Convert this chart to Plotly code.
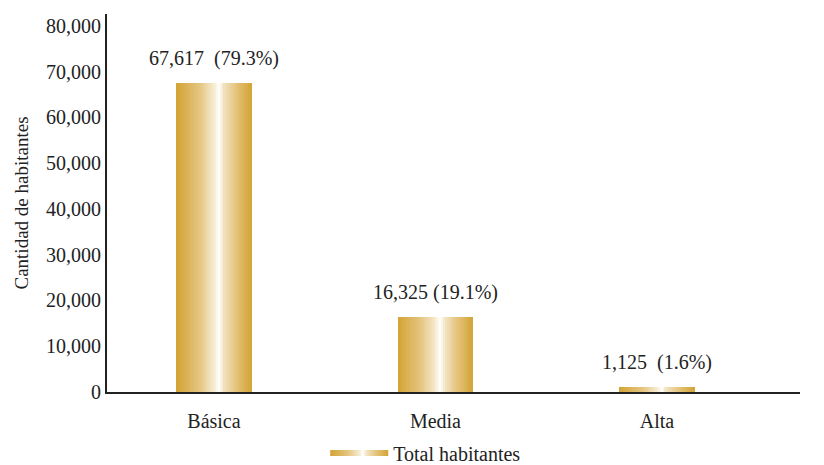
import plotly.graph_objects as go

categorias = ["Básica", "Media", "Alta"]
habitantes = [67617, 16325, 1125]
etiquetas = ["67,617\u00a0 (79.3%)", "16,325 (19.1%)", "1,125\u00a0 (1.6%)"]
serie = "Total habitantes"

# gradiente horizontal dorado -> blanco -> dorado (estilo)
stops = [(0.0, (211, 163, 52)), (0.3, (228, 196, 125)), (0.5, (246, 234, 208)),
         (0.56, (255, 255, 252)), (0.63, (242, 226, 192)), (0.82, (226, 191, 112)),
         (1.0, (211, 163, 52))]
escala = [[t, "rgb(%d,%d,%d)" % c] for t, c in stops]

def color_en(t):
    for (t0, c0), (t1, c1) in zip(stops, stops[1:]):
        if t0 <= t <= t1:
            f = (t - t0) / (t1 - t0)
            return "rgb(%d,%d,%d)" % tuple(round(a + (b - a) * f) for a, b in zip(c0, c1))
    return "rgb(%d,%d,%d)" % stops[-1][1]

W = 0.34
N = 40
xs, ys, offs, cols = [], [], [], []
for cat, val in zip(categorias, habitantes):
    for k in range(N):
        xs.append(cat)
        ys.append(val)
        offs.append(-W / 2 + k * W / N)
        cols.append(color_en((k + 0.5) / N))

fig = go.Figure()
fig.add_trace(go.Bar(x=xs, y=ys, offset=offs, width=W / N * 1.08,
                     marker=dict(color=cols, line=dict(width=0)),
                     showlegend=False, hoverinfo="skip"))
# entrada de leyenda con degradado
fig.add_trace(go.Scatter(x=[None], y=[None], name=serie, mode="none", fill="toself",
                         fillgradient=dict(type="horizontal", colorscale=escala)))

for cat, val, txt in zip(categorias, habitantes, etiquetas):
    fig.add_annotation(x=cat, y=val, text=txt, showarrow=False,
                       yanchor="bottom", yshift=11,
                       font=dict(size=20, color="#222"))

fig.update_layout(
    width=824, height=465,
    margin=dict(l=99, r=32, t=6, b=81),
    plot_bgcolor="white", paper_bgcolor="white",
    barmode="overlay", bargap=0,
    font=dict(family="Liberation Serif, Times New Roman, serif", size=20, color="#222"),
    legend=dict(orientation="h", xref="container", yref="container",
                x=0.385, xanchor="left", y=0.043, yanchor="middle",
                itemwidth=58, font=dict(size=20)),
)
fig.update_xaxes(range=[-0.483, 2.646], showline=True, linecolor="#222", linewidth=2,
                 showgrid=False, zeroline=False, ticks="", ticklabelstandoff=10,
                 automargin=False)
fig.update_yaxes(range=[0, 82600], dtick=10000, tickformat=",", showline=True,
                 linecolor="#222", linewidth=2, showgrid=False, zeroline=False,
                 ticks="", ticklabelstandoff=0, automargin=False,
                 title=dict(text="Cantidad de habitantes", font=dict(size=19), standoff=12))

fig.write_html("out.html")
